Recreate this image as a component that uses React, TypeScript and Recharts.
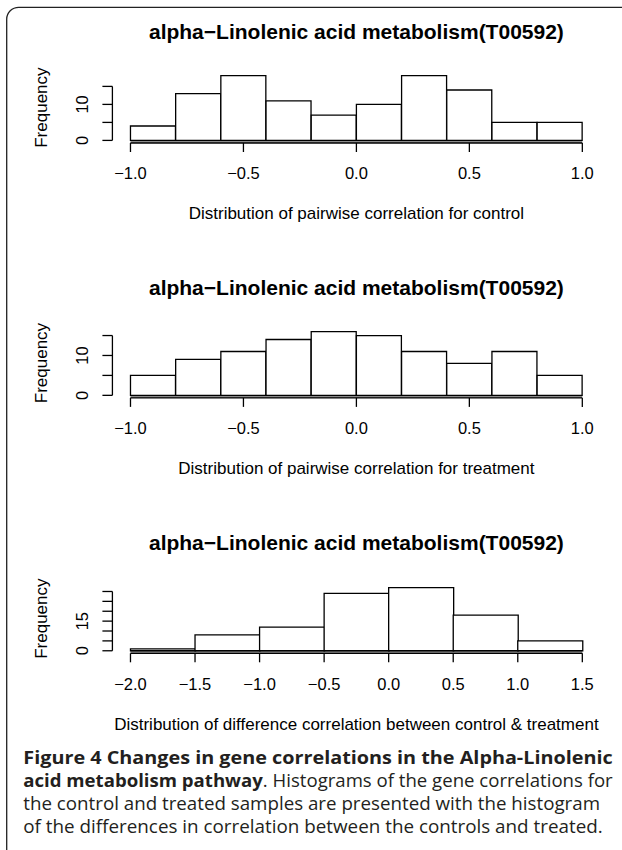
import React from "react";
import { BarChart, Bar, XAxis, YAxis, ReferenceLine, ReferenceArea } from "recharts";

// histogram bins (mid points) and counts
const corrMids = [-0.9, -0.7, -0.5, -0.3, -0.1, 0.1, 0.3, 0.5, 0.7, 0.9];
const controlCounts = [4, 13, 18, 11, 7, 10, 18, 14, 5, 5];
const treatmentCounts = [5, 9, 11, 14, 16, 15, 11, 8, 11, 5];
const diffMids = [-1.75, -1.25, -0.75, -0.25, 0.25, 0.75, 1.25];
const diffCounts = [1, 8, 12, 29, 32, 18, 5];

const corrTicks = [-1, -0.5, 0, 0.5, 1];
const diffTicks = [-2, -1.5, -1, -0.5, 0, 0.5, 1, 1.5];
const freqTicksSmall = [0, 5, 10, 15];
const freqLabelsSmall = [0, 10];
const freqTicksDiff = [0, 5, 10, 15, 20, 25, 30];
const freqLabelsDiff = [0, 15];

const TITLE = "alpha\u2212Linolenic acid metabolism(T00592)";
const FONT = "'Liberation Sans', Arial, Helvetica, sans-serif";
const CAPTION_FONT = "'Open Sans', 'Noto Sans', sans-serif";

const PLOT_LEFT = 112.4;
const PLOT_RIGHT = 600.4;
const W = 622;
const STROKE = 1.3;

const fmtTick = (v: number) => v.toFixed(1).replace("-", "\u2212");

// R style axis range: 4% extension on both ends
const usr = (lo: number, hi: number): [number, number] => {
  const span = hi - lo;
  return [lo - 0.04 * span, hi + 0.04 * span];
};

function XTick(props: any) {
  const { x, y, payload } = props;
  return (
    <text x={x} y={y + 27.4} textAnchor="middle" fontFamily={FONT} fontSize={16.5} fill="#000">
      {fmtTick(payload.value)}
    </text>
  );
}

function YTick(props: any) {
  const { x, y, payload, labels } = props;
  if (!labels.includes(payload.value)) return <g />;
  const tx = x - 14;
  return (
    <text
      x={tx}
      y={y}
      transform={`rotate(-90 ${tx} ${y})`}
      textAnchor="middle"
      fontFamily={FONT}
      fontSize={16.5}
      fill="#000"
    >
      {String(payload.value)}
    </text>
  );
}

type PanelProps = {
  plotTop: number;
  plotBottom: number;
  mids: number[];
  counts: number[];
  xTicks: number[];
  yTicks: number[];
  yLabels: number[];
};

function Histogram({ plotTop, plotBottom, mids, counts, xTicks, yTicks, yLabels }: PanelProps) {
  const chartTop = plotTop - 10;
  const axisH = 48;
  const height = plotBottom - chartTop + axisH;
  const data = mids.map((m, i) => ({ mid: m, count: counts[i] }));
  const xDomain = usr(xTicks[0], xTicks[xTicks.length - 1]);
  const yDomain = usr(0, Math.max(...counts));
  const lineStyle = { stroke: "#000", strokeWidth: STROKE };

  return (
    <div style={{ position: "absolute", left: 0, top: chartTop }}>
      <BarChart
        width={W}
        height={height}
        data={data}
        margin={{ top: 10, right: W - PLOT_RIGHT, bottom: 0, left: 0 }}
        barCategoryGap={0}
        barGap={0}
      >
        <XAxis
          type="number"
          dataKey="mid"
          domain={xDomain}
          ticks={xTicks}
          interval={0}
          allowDataOverflow
          axisLine={false}
          tickLine={lineStyle}
          tickSize={9}
          tickMargin={0}
          height={axisH}
          tick={(p: any) => <XTick {...p} />}
        />
        <YAxis
          type="number"
          domain={yDomain}
          ticks={yTicks}
          interval={0}
          allowDataOverflow
          axisLine={false}
          tickLine={lineStyle}
          tickSize={10}
          tickMargin={0}
          width={PLOT_LEFT}
          tick={(p: any) => <YTick {...p} labels={yLabels} />}
        />
        <ReferenceArea
          x1={xTicks[0]}
          x2={xTicks[xTicks.length - 1]}
          y1={yDomain[0]}
          y2={0}
          fill="#8a8a8a"
          fillOpacity={1}
          stroke="none"
          ifOverflow="visible"
        />
        <Bar dataKey="count" fill="#fff" stroke="#000" strokeWidth={STROKE} isAnimationActive={false} />
        <ReferenceLine
          segment={[
            { x: xTicks[0], y: yDomain[0] },
            { x: xTicks[xTicks.length - 1], y: yDomain[0] },
          ]}
          stroke="#000"
          strokeWidth={STROKE}
          ifOverflow="visible"
        />
        <ReferenceLine
          segment={[
            { x: xDomain[0], y: yTicks[0] },
            { x: xDomain[0], y: yTicks[yTicks.length - 1] },
          ]}
          stroke="#000"
          strokeWidth={STROKE}
          ifOverflow="visible"
        />
      </BarChart>
    </div>
  );
}

const panels = [
  { plotTop: 72.6, plotBottom: 142.6, titleY: 39.3, xlabY: 219.3, xlab: "Distribution of pairwise correlation for control" },
  { plotTop: 328.6, plotBottom: 397.5, titleY: 295, xlabY: 474, xlab: "Distribution of pairwise correlation for treatment" },
  { plotTop: 584.5, plotBottom: 652.8, titleY: 550, xlabY: 730, xlab: "Distribution of difference correlation between control & treatment" },
];

export default function App() {
  const cx = (PLOT_LEFT + PLOT_RIGHT) / 2;
  return (
    <div style={{ position: "absolute", left: 0, top: 0, width: W, height: 850, background: "#fff", overflow: "hidden" }}>
      <Histogram
        plotTop={panels[0].plotTop}
        plotBottom={panels[0].plotBottom}
        mids={corrMids}
        counts={controlCounts}
        xTicks={corrTicks}
        yTicks={freqTicksSmall}
        yLabels={freqLabelsSmall}
      />
      <Histogram
        plotTop={panels[1].plotTop}
        plotBottom={panels[1].plotBottom}
        mids={corrMids}
        counts={treatmentCounts}
        xTicks={corrTicks}
        yTicks={freqTicksSmall}
        yLabels={freqLabelsSmall}
      />
      <Histogram
        plotTop={panels[2].plotTop}
        plotBottom={panels[2].plotBottom}
        mids={diffMids}
        counts={diffCounts}
        xTicks={diffTicks}
        yTicks={freqTicksDiff}
        yLabels={freqLabelsDiff}
      />

      <svg width={W} height={850} style={{ position: "absolute", left: 0, top: 0, pointerEvents: "none" }}>
        <path d="M6.7 850 V19.3 A12 12 0 0 1 18.7 7.3 H622" fill="none" stroke="#222" strokeWidth={1.3} />
        {panels.map((p, i) => {
          const fy = (p.plotTop + p.plotBottom) / 2;
          return (
            <g key={i} fontFamily={FONT} fill="#000">
              <text x={cx} y={p.titleY} textAnchor="middle" fontSize={21} fontWeight={700}>
                {TITLE}
              </text>
              <text x={cx} y={p.xlabY} textAnchor="middle" fontSize={17}>
                {p.xlab}
              </text>
              <text x={46.6} y={fy} transform={`rotate(-90 46.6 ${fy})`} textAnchor="middle" fontSize={17}>
                Frequency
              </text>
            </g>
          );
        })}
        <g fontFamily={CAPTION_FONT} fontSize={18.5} fill="#231f20">
          <text x={23.3} y={763.5} textLength={589.4} lengthAdjust="spacingAndGlyphs" fontWeight={700}>
            Figure 4 Changes in gene correlations in the Alpha-Linolenic
          </text>
          <text x={23.3} y={786.7} textLength={589.4} lengthAdjust="spacingAndGlyphs">
            <tspan fontWeight={700}>acid metabolism pathway</tspan>
            <tspan>. Histograms of the gene correlations for</tspan>
          </text>
          <text x={23.3} y={809.9} textLength={576.7} lengthAdjust="spacingAndGlyphs">
            the control and treated samples are presented with the histogram
          </text>
          <text x={23.3} y={833.1} textLength={579.4} lengthAdjust="spacingAndGlyphs">
            of the differences in correlation between the controls and treated.
          </text>
        </g>
      </svg>
    </div>
  );
}
